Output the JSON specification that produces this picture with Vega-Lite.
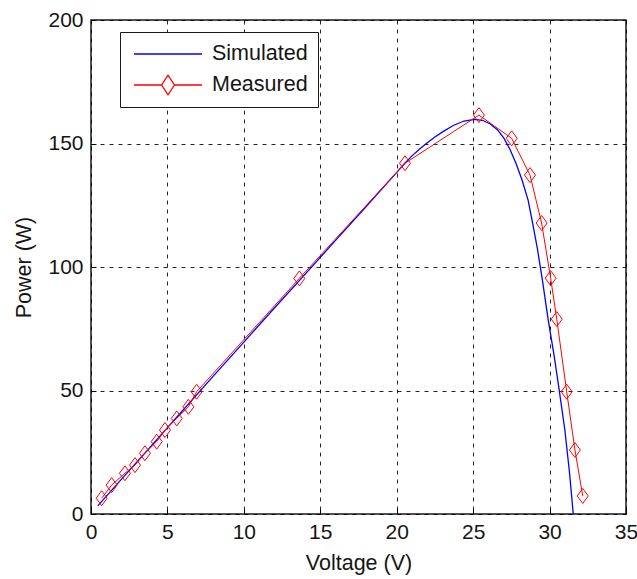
{
  "$schema": "https://vega.github.io/schema/vega-lite/v6.json",
  "width": 535,
  "height": 494,
  "autosize": {"type": "none"},
  "padding": {"left": 91, "top": 20, "right": 11, "bottom": 65},
  "background": "white",
  "datasets": {
    "sim": [
      {"V": 0.44, "P": 3.3, "series": "Simulated"},
      {"V": 2, "P": 14.1, "series": "Simulated"},
      {"V": 4, "P": 28, "series": "Simulated"},
      {"V": 6, "P": 41.9, "series": "Simulated"},
      {"V": 8, "P": 55.8, "series": "Simulated"},
      {"V": 10, "P": 69.6, "series": "Simulated"},
      {"V": 12, "P": 83.4, "series": "Simulated"},
      {"V": 14, "P": 97, "series": "Simulated"},
      {"V": 16, "P": 110.8, "series": "Simulated"},
      {"V": 18, "P": 124.5, "series": "Simulated"},
      {"V": 20, "P": 138.3, "series": "Simulated"},
      {"V": 20.5, "P": 141.8, "series": "Simulated"},
      {"V": 21, "P": 145, "series": "Simulated"},
      {"V": 21.5, "P": 147.8, "series": "Simulated"},
      {"V": 22, "P": 150.3, "series": "Simulated"},
      {"V": 22.5, "P": 152.6, "series": "Simulated"},
      {"V": 23, "P": 154.7, "series": "Simulated"},
      {"V": 23.7, "P": 157.3, "series": "Simulated"},
      {"V": 24.4, "P": 159.1, "series": "Simulated"},
      {"V": 25.1, "P": 159.8, "series": "Simulated"},
      {"V": 25.6, "P": 159.4, "series": "Simulated"},
      {"V": 26.1, "P": 158, "series": "Simulated"},
      {"V": 26.6, "P": 155.5, "series": "Simulated"},
      {"V": 27.0, "P": 152.3, "series": "Simulated"},
      {"V": 27.4, "P": 147.8, "series": "Simulated"},
      {"V": 27.8, "P": 142, "series": "Simulated"},
      {"V": 28.2, "P": 135.2, "series": "Simulated"},
      {"V": 28.6, "P": 127, "series": "Simulated"},
      {"V": 28.9, "P": 117.5, "series": "Simulated"},
      {"V": 29.2, "P": 107.5, "series": "Simulated"},
      {"V": 29.5, "P": 96, "series": "Simulated"},
      {"V": 29.9, "P": 79, "series": "Simulated"},
      {"V": 30.3, "P": 64, "series": "Simulated"},
      {"V": 30.6, "P": 51.5, "series": "Simulated"},
      {"V": 31.0, "P": 34, "series": "Simulated"},
      {"V": 31.3, "P": 17, "series": "Simulated"},
      {"V": 31.55, "P": 0, "series": "Simulated"}
    ],
    "meas": [
      {"V": 0.70, "P": 6.4, "series": "Measured"},
      {"V": 1.35, "P": 11.7, "series": "Measured"},
      {"V": 2.22, "P": 16.5, "series": "Measured"},
      {"V": 2.88, "P": 19.8, "series": "Measured"},
      {"V": 3.53, "P": 24.6, "series": "Measured"},
      {"V": 4.30, "P": 29.3, "series": "Measured"},
      {"V": 4.84, "P": 34, "series": "Measured"},
      {"V": 5.61, "P": 38.7, "series": "Measured"},
      {"V": 6.37, "P": 43.4, "series": "Measured"},
      {"V": 6.91, "P": 49.5, "series": "Measured"},
      {"V": 13.63, "P": 95.4, "series": "Measured"},
      {"V": 20.54, "P": 142, "series": "Measured"},
      {"V": 25.38, "P": 161.5, "series": "Measured"},
      {"V": 27.52, "P": 152.1, "series": "Measured"},
      {"V": 28.72, "P": 137.2, "series": "Measured"},
      {"V": 29.48, "P": 117.8, "series": "Measured"},
      {"V": 30.07, "P": 95.5, "series": "Measured"},
      {"V": 30.47, "P": 78.9, "series": "Measured"},
      {"V": 31.12, "P": 49.5, "series": "Measured"},
      {"V": 31.66, "P": 25.9, "series": "Measured"},
      {"V": 32.17, "P": 7.3, "series": "Measured"}
    ]
  },
  "config": {
    "view": {"stroke": "#1a1a1a", "strokeWidth": 1.5},
    "font": "Liberation Sans, Arial, sans-serif",
    "axis": {
      "domain": false,
      "grid": true,
      "gridColor": "#000000",
      "gridDash": [4, 5],
      "gridWidth": 1,
      "gridOpacity": 0.85,
      "ticks": true,
      "tickSize": -5,
      "tickColor": "#000000",
      "tickWidth": 1,
      "labelFont": "Liberation Sans, Arial, sans-serif",
      "labelFontSize": 21,
      "labelColor": "#151515",
      "titleFont": "Liberation Sans, Arial, sans-serif",
      "titleFontSize": 21.5,
      "titleFontWeight": "normal",
      "titleColor": "#151515"
    }
  },
  "layer": [
    {
      "data": {"name": "sim"},
      "mark": {"type": "line", "strokeWidth": 1.3},
      "encoding": {
        "x": {"field": "V", "type": "quantitative",
          "scale": {"domain": [0, 35], "nice": false, "zero": false},
          "axis": {"title": "Voltage (V)", "values": [0, 5, 10, 15, 20, 25, 30, 35], "labelPadding": 12, "titlePadding": 10, "labelFlush": false, "labelOverlap": false}},
        "y": {"field": "P", "type": "quantitative",
          "scale": {"domain": [0, 200], "nice": false},
          "axis": {"title": "Power (W)", "values": [0, 50, 100, 150, 200], "labelPadding": 13, "titlePadding": 12, "labelFlush": false, "labelOverlap": false}},
        "color": {"field": "series", "type": "nominal",
          "scale": {"domain": ["Simulated", "Measured"], "range": ["#0000ff", "#ff0000"]},
          "legend": {
            "title": null,
            "orient": "none",
            "legendX": 29,
            "legendY": 12,
            "padding": 10,
            "symbolSize": 4624,
            "symbolStrokeWidth": 1.3,
            "symbolOffset": 3,
            "clipHeight": 24,
            "rowPadding": 7,
            "labelOffset": 9,
            "labelFontSize": 21.5,
            "labelColor": "#151515",
            "labelFont": "Liberation Sans, Arial, sans-serif",
            "strokeColor": "#1a1a1a",
            "fillColor": "white",
            "encode": {
              "symbols": {
                "update": {
                  "shape": {"signal": "datum.value === 'Measured' ? 'M-1,0H-0.19L0,-0.29L0.19,0L0,0.29L-0.19,0ZM0.19,0H1' : 'M-1,0H1'"},
                  "fill": {"value": "transparent"}
                }
              }
            }
          }
        }
      }
    },
    {
      "data": {"name": "meas"},
      "mark": {"type": "line", "strokeWidth": 1},
      "encoding": {
        "x": {"field": "V", "type": "quantitative"},
        "y": {"field": "P", "type": "quantitative"},
        "color": {"field": "series", "type": "nominal"}
      }
    },
    {
      "data": {"name": "meas"},
      "mark": {"type": "point", "shape": "M0,-1L0.733,0L0,1L-0.733,0Z", "size": 225, "filled": false, "stroke": "#ff0000", "strokeWidth": 1, "opacity": 1},
      "encoding": {
        "x": {"field": "V", "type": "quantitative"},
        "y": {"field": "P", "type": "quantitative"}
      }
    }
  ]
}
